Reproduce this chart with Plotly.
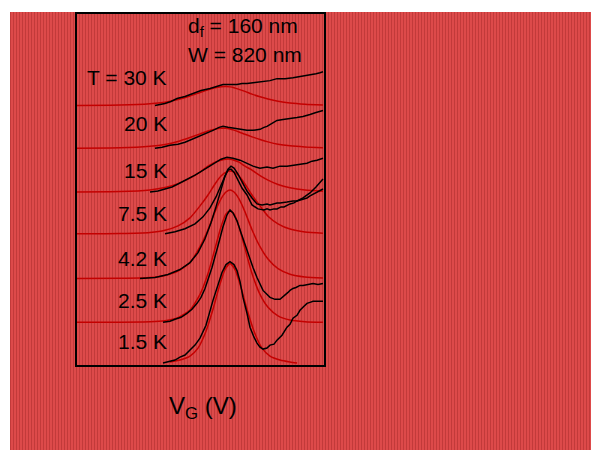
import base64
import plotly.graph_objects as go

# ---------------- data (V_G in arbitrary units, dG in arbitrary units) ----------------
temps = ["1.5 K", "2.5 K", "4.2 K", "7.5 K", "15 K", "20 K", "T = 30 K"]
offsets = [2, 43, 87, 132, 174, 218, 261]

vg_red_15 = [170, 180, 190, 198, 206, 213, 219, 225, 230, 235, 241, 247, 254, 262, 270, 280, 290, 297]
g_red_15 = [1, 3, 7, 15, 32, 54, 76, 94, 100, 94, 76, 54, 32, 15, 7, 3, 1, 0]

vg_red = [77, 120, 150, 165, 178, 190, 200, 208, 215, 221, 226, 230, 234, 239, 245, 252, 260, 268, 278, 290, 305, 323]
g_red_25 = [0, 0, 0.4, 1.5, 4.6, 12.4, 28, 49, 74, 96, 109, 112, 109, 96, 74, 49, 28, 15, 6.4, 2.2, 0.6, 0]
g_red_42 = [0, 0.2, 1, 3.1, 7.4, 16, 32, 49, 67, 80, 87, 89, 87, 80, 67, 49, 32, 19.6, 9.9, 4.3, 1.5, 0.4]
g_red_75 = [0, 0.2, 1.3, 3.5, 7.9, 16, 28, 39, 50, 58, 62, 63, 62, 58, 50, 39, 28, 17.6, 10, 4.7, 1.8, 0.6]
g_red_150 = [0, 0.4, 2.1, 4.5, 8.4, 14, 20, 26, 30, 32, 33, 33, 32, 30, 26, 22, 16.5, 12, 7.6, 4.3, 2, 0.8]
g_red_200 = [0, 0.4, 2, 3.8, 6.8, 10.8, 14.4, 17.4, 19.2, 20, 20, 19.4, 18.2, 16.4, 14, 11.4, 8.8, 6.4, 4, 2.4, 1.3, 0.5]
g_red_300 = [0, 0.4, 1.7, 3.3, 6, 9.5, 13.1, 15.8, 17.9, 18.8, 19, 18.7, 17.9, 16.2, 14.2, 11.4, 8.7, 6.5, 4.3, 2.5, 1.3, 0.5]

vg_blk_15 = [163, 170, 175, 180, 185, 190, 195, 200, 206, 213, 218, 222, 226, 230, 234, 237, 240, 243, 247, 250, 254, 257, 260, 263,
             267, 270, 274, 277, 282, 287, 290, 293, 297, 300, 304, 307, 310, 313, 318, 323]
g_blk_15 = [0, 2, 3, 6, 8, 13, 18, 25, 38, 63, 79, 91, 99, 102, 99, 93, 82, 66, 50, 36, 26, 20, 16, 14,
            15, 18, 19, 23, 28, 36, 39, 45, 48, 53, 57, 60, 61, 62, 62, 62]

vg_blk_25 = [163, 170, 175, 181, 187, 192, 197, 201, 205, 212, 218, 223, 227, 230, 233, 237, 241, 245, 249, 253, 257, 263,
             270, 275, 280, 285, 288, 290, 293, 296, 300, 303, 308, 313, 318, 323]
g_blk_25 = [0, 1, 3, 5, 9, 13, 19, 25, 34, 55, 77, 96, 108, 113, 110, 102, 90, 78, 66, 55, 45, 32,
            25, 23, 23, 27, 30, 32, 34, 35, 37, 37, 38, 39, 38, 39]

vg_blk_42 = [140, 155, 168, 180, 190, 198, 205, 211, 216, 221, 225, 228, 231, 234, 238, 242, 247, 252, 258, 264, 267,
             270, 274, 277, 281, 284, 290, 294, 297, 303, 307, 310, 316, 320, 323]
g_blk_42 = [0, 1, 4, 9, 16, 26, 40, 56, 72, 90, 103, 109, 110, 107, 99, 91, 84, 74, 70, 69, 70,
            69, 70, 70, 72, 72, 75, 76, 78, 80, 81, 83, 86, 88, 90]

vg_blk_75 = [165, 175, 185, 195, 203, 210, 216, 221, 225, 228, 231, 234, 238, 242, 247, 252, 257, 262, 267, 270, 273,
             277, 280, 284, 287, 293, 297, 303, 310, 316, 323]
g_blk_75 = [0, 2, 5, 10, 17, 26, 37, 48, 58, 65, 68, 66, 60, 52, 43, 36, 30, 29, 30, 29, 30,
            31, 31, 32, 32, 33, 33, 36, 41, 47, 55]

vg_blk_150 = [150, 158, 165, 172, 178, 184, 190, 195, 200, 208, 215, 221, 227, 233, 240, 247, 253, 260, 264, 267, 273,
              277, 280, 287, 293, 297, 300, 307, 312, 317, 323]
g_blk_150 = [0, 1, 3, 5, 8, 11, 14, 17, 20, 25, 30, 33, 35, 34, 32, 29, 26, 24, 25, 25, 24,
             25, 26, 26, 27, 27, 28, 29, 31, 32, 34]

vg_blk_200 = [155, 162, 170, 178, 185, 195, 205, 213, 219, 223, 228, 234, 240, 247, 253, 260, 264, 267, 272, 277, 283,
              290, 295, 297, 303, 308, 310, 316, 320, 323]
g_blk_200 = [0, 1, 3, 4, 6, 10, 14, 18, 21, 22, 21, 20, 19, 18, 18, 19, 21, 22, 25, 28, 29,
             30, 30, 31, 32, 33, 34, 36, 37, 38]

vg_blk_300 = [155, 160, 165, 171, 177, 185, 193, 201, 210, 217, 223, 230, 237, 242, 247, 255, 262, 266, 270, 277, 281,
              285, 293, 300, 305, 310, 316, 320, 323]
g_blk_300 = [0, 1, 2, 4, 7, 9, 12, 15, 17, 19, 21, 21, 21, 22, 22, 23, 24, 24, 25, 27, 27,
             27, 28, 29, 30, 31, 32, 33, 34]

red_series = [(vg_red_15, g_red_15), (vg_red, g_red_25), (vg_red, g_red_42), (vg_red, g_red_75),
              (vg_red, g_red_150), (vg_red, g_red_200), (vg_red, g_red_300)]
black_series = [(vg_blk_15, g_blk_15), (vg_blk_25, g_blk_25), (vg_blk_42, g_blk_42), (vg_blk_75, g_blk_75),
                (vg_blk_150, g_blk_150), (vg_blk_200, g_blk_200), (vg_blk_300, g_blk_300)]

# label vertical positions (arbitrary units, same scale as traces)
label_y = [24, 65, 107, 152, 196, 243, 289]

# ---------------- figure ----------------
fig = go.Figure()

for (xs, ys), off in zip(red_series, offsets):
    fig.add_trace(go.Scatter(x=xs, y=[v + off for v in ys], mode="lines",
                             line=dict(color="#c40000", width=1.5, shape="spline", smoothing=0.6),
                             hoverinfo="skip", showlegend=False))
for (xs, ys), off in zip(black_series, offsets):
    fig.add_trace(go.Scatter(x=xs, y=[v + off for v in ys], mode="lines",
                             line=dict(color="black", width=1.5),
                             hoverinfo="skip", showlegend=False))

font = "Liberation Sans, Arial, sans-serif"
for t, ly in zip(temps, label_y):
    fig.add_annotation(x=169, y=ly, text=t, showarrow=False, xanchor="right", yanchor="middle",
                       font=dict(family=font, size=21, color="black"))

fig.add_annotation(x=186, y=340, text="d<sub>f</sub> = 160 nm", showarrow=False, xanchor="left",
                   yanchor="middle", font=dict(family=font, size=21, color="black"))
fig.add_annotation(x=186, y=312, text="W = 820 nm", showarrow=False, xanchor="left",
                   yanchor="middle", font=dict(family=font, size=21, color="black"))
fig.add_annotation(x=0.51, y=-0.12, xref="paper", yref="paper", text="V<sub>G</sub> (V)",
                   showarrow=False, xanchor="center", yanchor="middle",
                   font=dict(family=font, size=24, color="black"))

# striped red background (texture)
svg = ("<svg xmlns='http://www.w3.org/2000/svg' width='620' height='470'>"
       "<defs><pattern id='p' width='3' height='10' patternUnits='userSpaceOnUse'>"
       "<rect width='3' height='10' fill='#dd4a4a'/><rect width='1' height='10' fill='#c23a3a'/>"
       "</pattern></defs><rect width='620' height='470' fill='url(#p)'/></svg>")
src = "data:image/svg+xml;base64," + base64.b64encode(svg.encode()).decode()
fig.add_layout_image(dict(source=src, xref="paper", yref="paper", x=-67 / 247, y=355 / 353,
                          sizex=620 / 247, sizey=470 / 353, xanchor="left", yanchor="top",
                          sizing="stretch", layer="below"))

# thin white strips at the very top/left edge of the figure
fig.add_shape(type="rect", xref="paper", yref="paper", x0=-69 / 247, x1=600 / 247,
              y0=355 / 353, y1=360 / 353, fillcolor="white", line=dict(width=0), layer="below")
fig.add_shape(type="rect", xref="paper", yref="paper", x0=-75 / 247, x1=-67 / 247,
              y0=-100 / 353, y1=360 / 353, fillcolor="white", line=dict(width=0), layer="below")

fig.update_xaxes(range=[77, 324], showgrid=False, zeroline=False, showticklabels=False, ticks="",
                 showline=True, mirror=True, linecolor="black", linewidth=2)
fig.update_yaxes(range=[0, 353], showgrid=False, zeroline=False, showticklabels=False, ticks="",
                 showline=True, mirror=True, linecolor="black", linewidth=2)

fig.update_layout(width=599, height=450, margin=dict(l=69, r=283, t=4, b=93),
                  paper_bgcolor="#d64545", plot_bgcolor="rgba(0,0,0,0)")

fig.write_html("out.html")
